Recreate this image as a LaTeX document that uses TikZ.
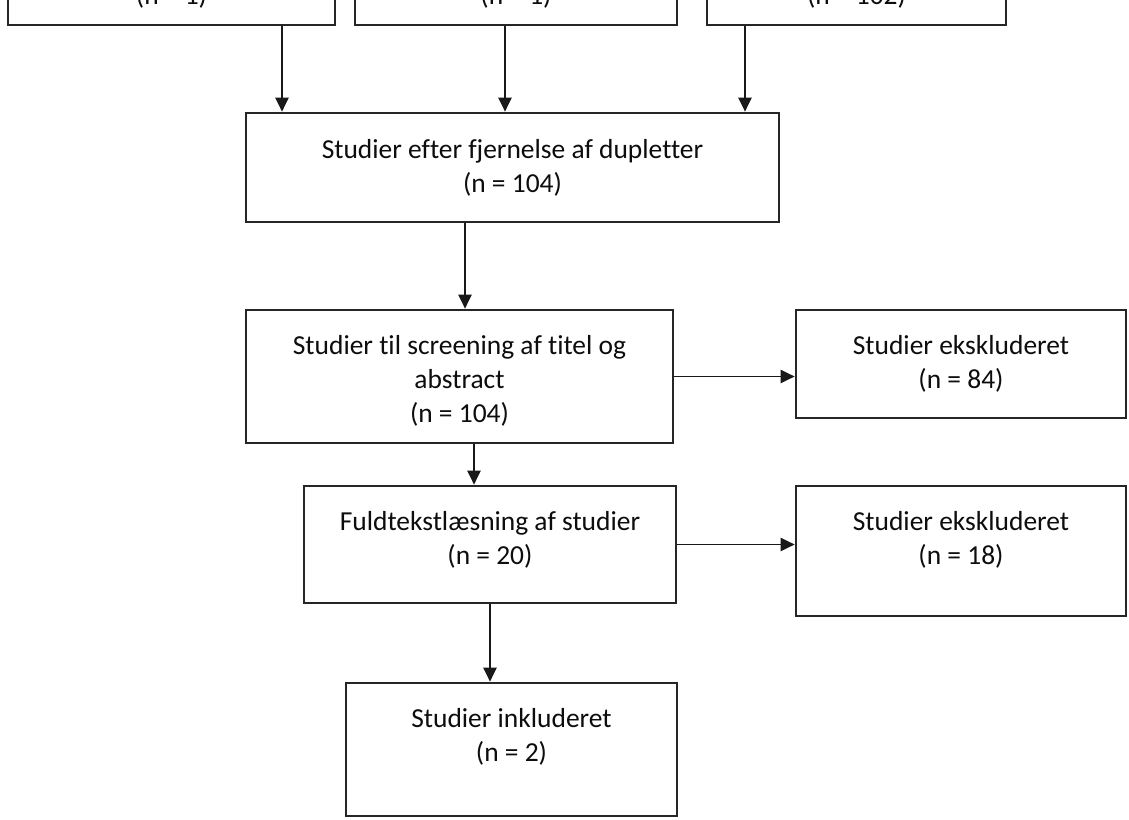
\documentclass[tikz,border=0pt]{standalone}
\usepackage{fontspec}
\setmainfont{Carlito}[Ligatures=NoCommon]
\usetikzlibrary{fit,shadows,arrows.meta}
\begin{document}
\begin{tikzpicture}[x=0.75pt,y=-0.75pt,
  box/.style={draw=black!85, line width=1.1pt, fill=white, inner sep=0pt,
    drop shadow={shadow xshift=1.1pt, shadow yshift=-1.1pt, fill=black, opacity=0.3}},
  txt/.style={anchor=base, inner sep=0pt, text=black!95,
    font=\fontsize{20.6pt}{25.4pt}\selectfont},
  arr/.style={line width=1.2pt, draw=black!90,
    -{Triangle[length=10.5pt,width=10pt]}, shorten >=0.5pt}]
\useasboundingbox (0,0) rectangle (1129,820);
\clip (0,0) rectangle (1129,820);
\fill[white] (0,0) rectangle (1129,820);

% x positions of vertical connectors
\coordinate (xa) at (282,0);
\coordinate (xb) at (505,0);
\coordinate (xc) at (745,0);
\coordinate (xd) at (465,0);
\coordinate (xe) at (474,0);
\coordinate (xf) at (490,0);

% boxes
\node[box, fit={(8,-120) (335,25)}] (t1) {};
\node[box, fit={(355,-120) (677,25)}] (t2) {};
\node[box, fit={(707,-120) (1006,25)}] (t3) {};
\node[box, fit={(246,113) (779,222)}] (dup) {};
\node[box, fit={(246,310) (673,443)}] (scr) {};
\node[box, fit={(796,310) (1126,418)}] (ex1) {};
\node[box, fit={(304,486) (676,603)}] (full) {};
\node[box, fit={(796,486) (1126,616)}] (ex2) {};
\node[box, fit={(346,683) (677,816)}] (inc) {};

% texts
\node[txt] (t1t) at ([yshift=16pt]t1.south) {(n = 1)};
\node[txt] (t2t) at ([yshift=16pt]t2.south) {(n = 1)};
\node[txt] (t3t) at ([yshift=16pt]t3.south) {(n = 102)};
\node[txt] (dupt) at ([yshift=-34.5pt]dup.north) {\parbox[t]{500pt}{\centering Studier efter fjernelse af dupletter\\(n = 104)}};
\node[txt] (scrt) at ([yshift=-34pt]scr.north) {\parbox[t]{400pt}{\centering Studier til screening af titel og\\abstract\\(n = 104)}};
\node[txt] (ex1t) at ([yshift=-34pt]ex1.north) {\parbox[t]{300pt}{\centering Studier ekskluderet\\(n = 84)}};
\node[txt] (fullt) at ([yshift=-34pt]full.north) {\parbox[t]{300pt}{\centering Fuldtekstlæsning af studier\\(n = 20)}};
\node[txt] (ex2t) at ([yshift=-34pt]ex2.north) {\parbox[t]{300pt}{\centering Studier ekskluderet\\(n = 18)}};
\node[txt] (inct) at ([yshift=-34pt]inc.north) {\parbox[t]{300pt}{\centering Studier inkluderet\\(n = 2)}};

% connectors
\draw[arr] (t1.south -| xa) -- (dup.north -| xa);
\draw[arr] (t2.south -| xb) -- (dup.north -| xb);
\draw[arr] (t3.south -| xc) -- (dup.north -| xc);
\draw[arr] (dup.south -| xd) -- (scr.north -| xd);
\draw[arr] (scr.east) -- (scr.east -| ex1.west);
\draw[arr] (scr.south -| xe) -- (full.north -| xe);
\draw[arr] (full.east) -- (full.east -| ex2.west);
\draw[arr] (full.south -| xf) -- (inc.north -| xf);
\end{tikzpicture}
\end{document}
